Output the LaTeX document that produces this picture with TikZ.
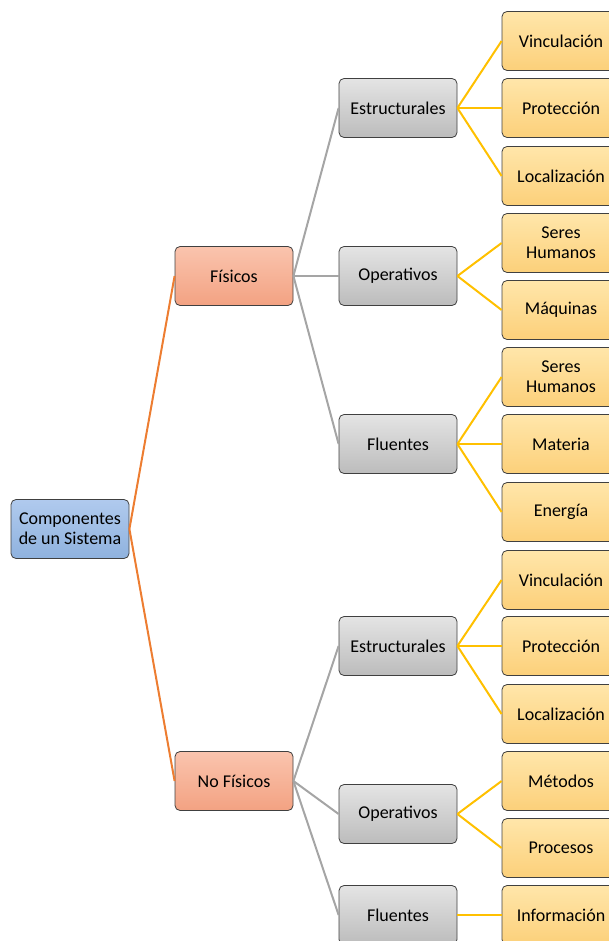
\documentclass[tikz,border=0pt]{standalone}
\usepackage{fontspec}
\setmainfont{Carlito}
\definecolor{rootTop}{RGB}{176,202,238}
\definecolor{rootBot}{RGB}{143,178,222}
\definecolor{catTop}{RGB}{250,196,174}
\definecolor{catBot}{RGB}{243,162,130}
\definecolor{midTop}{RGB}{228,228,228}
\definecolor{midBot}{RGB}{188,188,188}
\definecolor{leafTop}{RGB}{255,230,170}
\definecolor{leafBot}{RGB}{252,208,122}
\definecolor{rootLine}{RGB}{237,125,49}
\definecolor{catLine}{RGB}{165,165,165}
\definecolor{leafLine}{RGB}{255,192,0}
\begin{document}
\begin{tikzpicture}[x=1pt,y=-1pt,
  box/.style={draw=black!75,line width=0.8pt,rounded corners=5pt,
    minimum width=118pt,minimum height=59pt,inner sep=0pt,align=center,
    font=\fontsize{18}{20}\selectfont},
  rootbox/.style={box,top color=rootTop,bottom color=rootBot},
  catbox/.style={box,top color=catTop,bottom color=catBot},
  midbox/.style={box,top color=midTop,bottom color=midBot},
  leafbox/.style={box,top color=leafTop,bottom color=leafBot},
  rootlink/.style={draw=rootLine,line width=2pt},
  catlink/.style={draw=catLine,line width=2pt},
  leaflink/.style={draw=leafLine,line width=2pt}]
\useasboundingbox (0,0) rectangle (609,941);

% root and categories
\node[rootbox] (root) at (70,529) {Componentes\\de un Sistema};
\node[catbox] (fis) at (234,276) {Físicos};
\node[catbox] (nofis) at (234,781) {No Físicos};

% second level
\node[midbox] (est1) at (398,108) {Estructurales};
\node[midbox] (ope1) at (398,276) {Operativos};
\node[midbox] (flu1) at (398,444) {Fluentes};
\node[midbox] (est2) at (398,646) {Estructurales};
\node[midbox] (ope2) at (398,814) {Operativos};
\node[midbox] (flu2) at (398,915) {Fluentes};

% leaves
\node[leafbox] (l1) at (561,41) {Vinculación};
\node[leafbox] (l2) at (561,108) {Protección};
\node[leafbox] (l3) at (561,176) {Localización};
\node[leafbox] (l4) at (561,243) {Seres\\Humanos};
\node[leafbox] (l5) at (561,310) {Máquinas};
\node[leafbox] (l6) at (561,377) {Seres\\Humanos};
\node[leafbox] (l7) at (561,444) {Materia};
\node[leafbox] (l8) at (561,512) {Energía};
\node[leafbox] (l9) at (561,580) {Vinculación};
\node[leafbox] (l10) at (561,646) {Protección};
\node[leafbox] (l11) at (561,714) {Localización};
\node[leafbox] (l12) at (561,781) {Métodos};
\node[leafbox] (l13) at (561,848) {Procesos};
\node[leafbox] (l14) at (561,915) {Información};

% connectors
\draw[rootlink] (root.east) -- (fis.west);
\draw[rootlink] (root.east) -- (nofis.west);
\foreach \c in {est1,ope1,flu1} \draw[catlink] (fis.east) -- (\c.west);
\foreach \c in {est2,ope2,flu2} \draw[catlink] (nofis.east) -- (\c.west);
\foreach \c in {l1,l2,l3} \draw[leaflink] (est1.east) -- (\c.west);
\foreach \c in {l4,l5} \draw[leaflink] (ope1.east) -- (\c.west);
\foreach \c in {l6,l7,l8} \draw[leaflink] (flu1.east) -- (\c.west);
\foreach \c in {l9,l10,l11} \draw[leaflink] (est2.east) -- (\c.west);
\foreach \c in {l12,l13} \draw[leaflink] (ope2.east) -- (\c.west);
\draw[leaflink] (flu2.east) -- (l14.west);
\end{tikzpicture}
\end{document}
